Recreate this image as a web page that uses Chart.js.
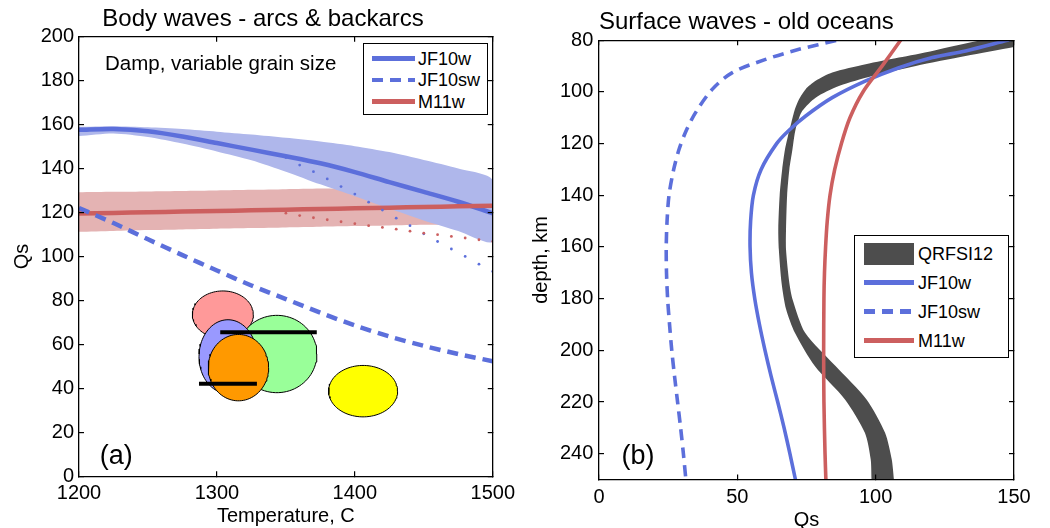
<!DOCTYPE html>
<html><head><meta charset="utf-8">
<script src="https://cdn.jsdelivr.net/npm/chart.js@4.4.1/dist/chart.umd.min.js"></script>
<style>
html,body{margin:0;padding:0;background:#fff;}
body{width:1050px;height:528px;overflow:hidden;position:relative;font-family:"Liberation Sans",Arial,Helvetica,sans-serif;color:#000;}
.txt{position:absolute;line-height:1;white-space:nowrap;}
.lgbox{position:absolute;border:1.4px solid #000;box-sizing:border-box;background:#fff;}
.smp{position:absolute;}
</style></head><body>
<canvas id="cL" width="525" height="528" style="position:absolute;left:0;top:0"></canvas>
<canvas id="cR" width="525" height="528" style="position:absolute;left:525px;top:0"></canvas>
<div id="overlay"></div>
<script>
const FONT = '"Liberation Sans", Arial, Helvetica, sans-serif';
const BLUE = '#5C6FDB', BLUE_BAND = '#AFB7EB', RED = '#CC5F5F', RED_BAND = '#E4B3B3', DARK = '#4D4D4D';

// ---------- Left panel: body waves ----------
const tempGrid    = [1200,1225,1250,1275,1300,1325,1350,1375,1400,1425,1450,1475,1500];
const jf10wQs     = [157.6,158.0,157.0,154.6,151.6,148.6,145.6,142.4,138.4,133.8,129.4,124.9,119.6];
const jf10wBandHi = [159.0,159.3,158.8,158.0,156.8,155.5,154.0,152.3,150.2,147.5,143.9,140.0,134.7];
const jf10wBandLo = [154.8,156.0,154.4,151.4,147.8,143.8,138.6,132.8,127.4,121.8,116.4,111.6,106.8];
const jf10swQs    = [122.0,115.2,107.8,100.6,93.6,86.8,80.6,74.4,68.6,63.6,59.3,55.6,52.3];
const m11wQs      = [119.5,119.8,120.1,120.4,120.7,121.0,121.3,121.6,121.9,122.2,122.5,122.8,123.1];
const m11wBandHi  = [129.2,129.4,129.6,129.8,130.0,130.3,130.6,130.9,131.2,131.5,131.8,132.1,132.4];
const m11wBandLo  = [111.2,111.6,112.0,112.3,112.6,112.9,113.2,113.5,113.8,114.1,114.4,114.7,115.0];
const dotTemps    = [1350,1360,1370,1380,1390,1400,1410,1420,1430,1440,1450,1460,1470,1480,1490,1500];
const jf10wDotQs  = [145.0,141.6,138.6,135.3,131.8,128.4,124.7,121.1,117.4,114.0,110.3,106.8,103.4,100.0,96.5,93.2];
const m11wDotQs   = [119.7,118.6,117.6,116.7,115.8,114.9,114.0,113.2,112.4,111.5,110.6,109.9,109.1,108.4,107.6,106.8];
const obsT        = [1304.3,1343.5,1308.0,1315.6,1406.0];
const obsQs       = [73.5,55.6,54.4,49.4,38.7];
const obsHalfT    = [22.1,29.0,21.0,21.9,25.0];
const obsHalfQs   = [10.8,17.6,16.8,15.1,11.7];
const obsColor    = ['#FF9999','#99FF99','#9999FF','#FF9900','#FFFF00'];
const barT        = [[1302.4,1372.4],[1287.0,1329.0]];
const barQs       = [65.5,42.1];
const xTicksL     = [1200,1300,1400,1500];
const yTicksL     = [0,20,40,60,80,100,120,140,160,180,200];

// ---------- Right panel: surface waves ----------
const swDepth = [78.5,80,83.5,87.4,92.5,98.9,108,115,122,130,140,150,160,170,180,190,200,210,220,230,240,250];
const swQs    = [92.0,86.1,72.3,60.2,48.2,41.0,34.9,31.5,29.0,27.0,25.3,24.6,24.3,24.4,24.8,25.5,26.3,27.3,28.4,29.5,30.5,31.4];
const wDepth  = [78,80,84.1,86.7,90.6,95.7,102.2,109.3,115,120,130,140,150,160,170,180,190,200,210,220,230,240,250];
const wQs     = [155,147.6,132.5,120.5,108.4,96.4,84.3,74.7,68.5,64.2,58.6,55.8,54.8,54.6,55.1,56.3,58.0,60.0,62.2,64.6,66.9,69.0,71.0];
const mDepth  = [78,80,90,100,110,120,130,140,150,160,170,180,200,220,240,250];
const mQs     = [110.3,109.0,102.3,95.4,90.7,87.6,85.2,83.5,82.5,81.9,81.5,81.3,81.2,81.3,81.7,82.0];
const qrOuterDepth = [76,79.9,84.1,86.7,89.3,92.5,95.7,98.9,102.8,106.7,112,117,122.4,130,140,153,161,174,184,193.2,206.1,219,231.9,242.2,250,253];
const qrOuterQs    = [165,138.6,120.5,108.4,96.4,84.3,78.3,74.7,72.3,70.8,69.5,68.3,67.2,66.2,65.3,64.8,65.0,66.0,67.6,70.8,78.0,88.9,96.1,98.2,98.5,98.6];
const qrInnerDepth = [253,250,242.2,231.9,219,206.1,193.2,180.4,173.9,161,153.3,140,130,122.4,117,113,107.3,102.2,97.7,93.8,89.9,86.1,82.6,79];
const qrInnerQs    = [106.8,106.6,105.8,103.4,96.7,85.5,74.5,70.0,68.8,67.6,67.6,68.0,68.8,69.9,70.6,71.4,73.5,78.3,86.7,98.8,114.5,132.5,150,168];
const xTicksR = [0,50,100,150];
const yTicksR = [80,100,120,140,160,180,200,220,240];

// ---------- helpers ----------
const pts = (xs, ys) => xs.map((x, i) => ({x: x, y: ys[i]}));
function bandPts(xs, hi, lo) {
  return pts(xs, hi).concat(pts(xs, lo).reverse());
}
function ellipsePts(cx, cy, rx, ry) {
  const out = [];
  for (let k = 0; k <= 90; k++) {
    const a = 2 * Math.PI * k / 90;
    out.push({x: cx + rx * Math.cos(a), y: cy + ry * Math.sin(a)});
  }
  return out;
}
function shape(data, color, extra) {
  return Object.assign({data, showLine: true, fill: 'shape', backgroundColor: color,
    borderColor: 'rgba(0,0,0,0)', borderWidth: 0, pointRadius: 0, tension: 0.25}, extra || {});
}
function line(data, color, width, dash) {
  return {data, showLine: true, fill: false, borderColor: color, borderWidth: width,
    borderDash: dash || [], pointRadius: 0, tension: 0.3, clip: 0,
    borderCapStyle: 'butt', borderJoinStyle: 'round'};
}
function dots(data, color) {
  return {data, showLine: false, pointRadius: 1.4, pointBackgroundColor: color,
    pointBorderWidth: 0, pointBorderColor: color, clip: 0};
}
function ordered(ds) { ds.forEach((d, i) => d.order = ds.length - i); return ds; }
const grid = () => ({drawOnChartArea: false, drawTicks: true, tickLength: -5, color: '#000', lineWidth: 1.2, z: 1});
const border = {display: true, color: '#000', width: 1.3, z: 1};
const tickFont = {family: FONT, size: 20};
const setTicks = arr => (s => { s.ticks = arr.map(v => ({value: v})); });

// ---------- Left chart ----------
const leftDatasets = ordered([
  shape(bandPts(tempGrid, m11wBandHi, m11wBandLo), RED_BAND),
  shape(bandPts(tempGrid, jf10wBandHi, jf10wBandLo), BLUE_BAND),
  line(pts(tempGrid, jf10wQs), BLUE, 4.5),
  line(pts(tempGrid, m11wQs), RED, 4.5),
  line(pts(tempGrid, jf10swQs), BLUE, 4.5, [11, 7]),
  dots(pts(dotTemps, jf10wDotQs), BLUE),
  dots(pts(dotTemps, m11wDotQs), RED),
  ...obsT.map((t, i) => shape(ellipsePts(t, obsQs[i], obsHalfT[i], obsHalfQs[i]), obsColor[i],
      {borderColor: '#000', borderWidth: 1, tension: 0})),
  ...barT.map((b, i) => line(pts(b, [barQs[i], barQs[i]]), '#000', 4))
]);

new Chart(document.getElementById('cL'), {
  type: 'scatter',
  data: {datasets: leftDatasets},
  options: {
    responsive: false, animation: false, devicePixelRatio: 1,
    layout: {padding: {left: 1, right: 0, top: 0, bottom: 0}},
    plugins: {
      legend: {display: false}, tooltip: {enabled: false},
      title: {display: true, text: 'Body waves - arcs & backarcs', color: '#000',
        font: {family: FONT, size: 24, weight: 'normal', lineHeight: 1.2},
        padding: {top: 5.1, bottom: 2.8}}
    },
    scales: {
      x: {type: 'linear', position: 'bottom', min: 1200, max: 1500,
        afterBuildTicks: setTicks(xTicksL), afterFit: s => { s.height = 51.8; },
        grid: grid(), border,
        ticks: {font: tickFont, color: '#000', padding: 10, maxRotation: 0, autoSkip: false, callback: v => String(v)},
        title: {display: true, text: 'Temperature, C', color: '#000', font: {family: FONT, size: 20}, padding: {top: 0, bottom: -0.5}}},
      x2: {type: 'linear', position: 'top', min: 1200, max: 1500,
        afterBuildTicks: setTicks(xTicksL), afterFit: s => { s.height = 0; },
        grid: grid(), border, ticks: {display: false}},
      y: {type: 'linear', position: 'left', min: 0, max: 200,
        afterBuildTicks: setTicks(yTicksL), afterFit: s => { s.width = 78; },
        grid: grid(), border,
        ticks: {font: tickFont, color: '#000', padding: 10, autoSkip: false, callback: v => String(v)},
        title: {display: true, text: 'Qs', color: '#000', font: {family: FONT, size: 20}, padding: {top: 9.5, bottom: 0}}},
      y2: {type: 'linear', position: 'right', min: 0, max: 200,
        afterBuildTicks: setTicks(yTicksL), afterFit: s => { s.width = 30.7; },
        grid: grid(), border, ticks: {display: false}}
    }
  }
});

// ---------- Right chart ----------
const rightDatasets = ordered([
  shape(pts(qrOuterQs, qrOuterDepth).concat(pts(qrInnerQs, qrInnerDepth)), DARK),
  line(pts(swQs, swDepth), BLUE, 3.6, [11, 7]),
  line(pts(wQs, wDepth), BLUE, 3.6),
  line(pts(mQs, mDepth), RED, 3.6)
]);

new Chart(document.getElementById('cR'), {
  type: 'scatter',
  data: {datasets: rightDatasets},
  options: {
    responsive: false, animation: false, devicePixelRatio: 1,
    layout: {padding: 0},
    plugins: {legend: {display: false}, tooltip: {enabled: false}},
    scales: {
      x: {type: 'linear', position: 'bottom', min: 0, max: 150,
        afterBuildTicks: setTicks(xTicksR), afterFit: s => { s.height = 48.5; },
        grid: grid(), border,
        ticks: {font: tickFont, color: '#000', padding: 10.5, maxRotation: 0, autoSkip: false, callback: v => String(v)},
        title: {display: true, text: 'Qs', color: '#000', font: {family: FONT, size: 20}, padding: {top: 0, bottom: -4}}},
      x2: {type: 'linear', position: 'top', min: 0, max: 150,
        afterBuildTicks: setTicks(xTicksR), afterFit: s => { s.height = 40.3; },
        grid: grid(), border, ticks: {display: false},
        title: {display: true, text: 'Surface waves - old oceans', align: 'start', color: '#000',
          font: {family: FONT, size: 24, lineHeight: 1.2}, padding: {top: 7.6, bottom: 0}}},
      y: {type: 'linear', position: 'left', min: 80, max: 250, reverse: true,
        afterBuildTicks: setTicks(yTicksR), afterFit: s => { s.width = 74; },
        grid: grid(), border,
        ticks: {font: tickFont, color: '#000', padding: 10.7, autoSkip: false, callback: v => String(v)},
        title: {display: true, text: 'depth, km', color: '#000', font: {family: FONT, size: 20}, padding: {top: 4.5, bottom: 0}}},
      y2: {type: 'linear', position: 'right', min: 80, max: 250, reverse: true,
        afterBuildTicks: setTicks(yTicksR), afterFit: s => { s.width = 36; },
        grid: grid(), border, ticks: {display: false}}
    }
  }
});

// ---------- HTML legends and annotations ----------
const ov = document.getElementById('overlay');
function el(cls, css, text) {
  const d = document.createElement('div');
  d.className = cls; d.style.cssText = css;
  if (text !== undefined) d.textContent = text;
  ov.appendChild(d); return d;
}
function sampleCss(kind, color, x, y, w, h) {
  let bg = color;
  if (kind === 'dash') bg = 'repeating-linear-gradient(to right,' + color + ' 0 11px, transparent 11px 18px)';
  return 'left:' + x + 'px;top:' + (y - h / 2) + 'px;width:' + w + 'px;height:' + h + 'px;background:' + bg + ';';
}
// left legend
const legL = [{name: 'JF10w', kind: 'solid', color: BLUE}, {name: 'JF10sw', kind: 'dash', color: BLUE}, {name: 'M11w', kind: 'solid', color: RED}];
const legLRows = [58.3, 80, 101.7];
el('lgbox', 'left:363.3px;top:43.3px;width:125px;height:71.7px;');
legL.forEach((e, i) => {
  el('smp', sampleCss(e.kind, e.color, 371.7, legLRows[i], 43.3, 4.5));
  el('txt', 'left:418px;top:' + (legLRows[i] - 8.8) + 'px;font-size:18px;', e.name);
});
// right legend
const legR = [{name: 'QRFSI12', kind: 'band', color: DARK}, {name: 'JF10w', kind: 'solid', color: BLUE}, {name: 'JF10sw', kind: 'dash', color: BLUE}, {name: 'M11w', kind: 'solid', color: RED}];
const legRRows = [254, 282.3, 311.3, 340.7];
el('lgbox', 'left:854.3px;top:235.3px;width:154.7px;height:122.7px;');
legR.forEach((e, i) => {
  const h = e.kind === 'band' ? 21.4 : 4.5;
  el('smp', sampleCss(e.kind, e.color, 863.5, legRRows[i], 50, h));
  el('txt', 'left:918px;top:' + (legRRows[i] - 8.8) + 'px;font-size:18px;', e.name);
});
el('txt', 'left:105px;top:53.3px;font-size:20.5px;', 'Damp, variable grain size');
el('txt', 'left:99.8px;top:441.6px;font-size:27px;', '(a)');
el('txt', 'left:621.4px;top:441.6px;font-size:27px;', '(b)');
</script>
</body></html>
